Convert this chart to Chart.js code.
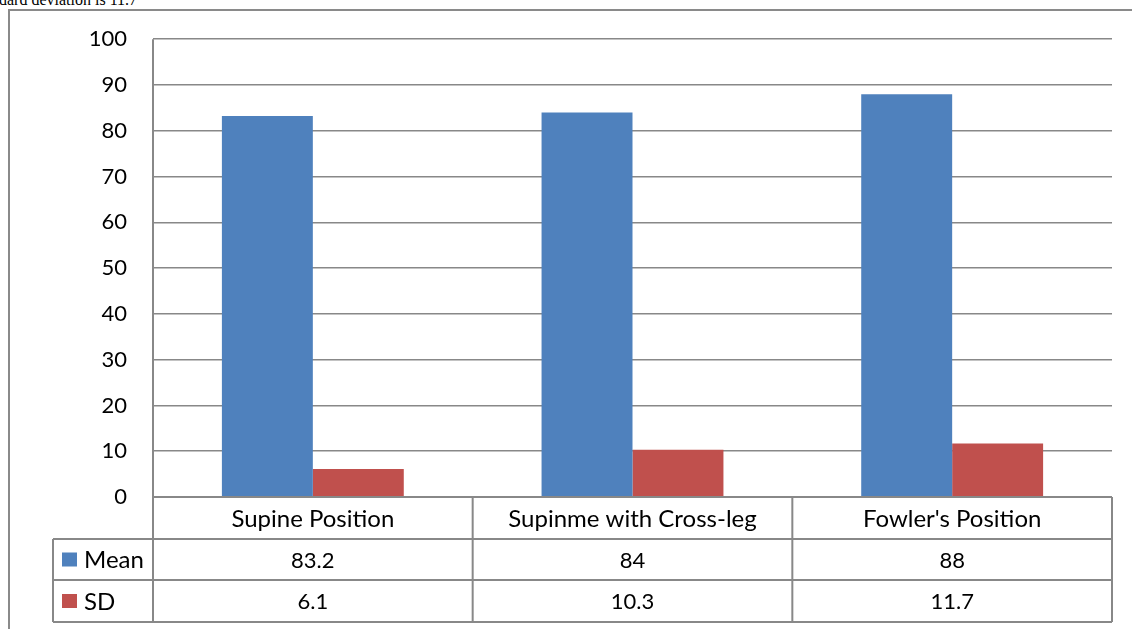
<!DOCTYPE html>
<html>
<head>
<meta charset="utf-8">
<script src="https://cdn.jsdelivr.net/npm/chart.js@4"></script>
<style>
  html, body { margin: 0; padding: 0; background: #fff; overflow: hidden; }
  #frame { position: absolute; left: 8px; top: 9px; width: 1200px; height: 700px; border: 2px solid #8a8a8a; }
  #note { position: absolute; left: -1px; top: -8px; font: 16px "Liberation Serif", serif; line-height: 16px; color: #000; white-space: nowrap; }
  #wrap { position: absolute; left: 0; top: 0; width: 1132px; height: 629px; }
</style>
</head>
<body>
<div id="note">dard deviation is 11.7</div>
<div id="frame"></div>
<div id="wrap"><canvas id="chart"></canvas></div>
<script>
  const categories = ["Supine Position", "Supinme with Cross-leg", "Fowler's Position"];
  const seriesNames = ["Mean", "SD"];
  const meanValues = [83.2, 84, 88];
  const sdValues = [6.1, 10.3, 11.7];
  const tableLabels = [["83.2", "84", "88"], ["6.1", "10.3", "11.7"]];

  const colors = ["#4f81bd", "#c0504d"];
  const lineColor = "#888888";
  const fontFamily = "Lato, 'Open Sans', sans-serif";
  const fontSize = 22;
  const labelSize = 24;

  // data table under the plot, drawn from the x scale
  const dataTable = {
    id: "dataTable",
    afterDraw(chart) {
      const ctx = chart.ctx;
      const area = chart.chartArea;
      const x = chart.scales.x;
      const step = (area.right - area.left) / categories.length;
      const rowTops = [area.bottom, area.bottom + 42, area.bottom + 83, area.bottom + 125];
      const legendLeft = 53;

      ctx.save();
      ctx.strokeStyle = lineColor;
      ctx.lineWidth = 2;
      ctx.beginPath();
      // axis line through the table
      ctx.moveTo(area.left, area.top);
      ctx.lineTo(area.left, rowTops[3]);
      // horizontal lines
      ctx.moveTo(area.left, rowTops[0]);
      ctx.lineTo(area.right, rowTops[0]);
      for (let r = 1; r < 4; r++) {
        ctx.moveTo(legendLeft, rowTops[r]);
        ctx.lineTo(area.right, rowTops[r]);
      }
      // vertical lines
      ctx.moveTo(legendLeft, rowTops[1]);
      ctx.lineTo(legendLeft, rowTops[3]);
      for (let i = 1; i <= categories.length; i++) {
        const px = area.left + i * step;
        ctx.moveTo(px, rowTops[0]);
        ctx.lineTo(px, rowTops[3]);
      }
      ctx.stroke();

      ctx.fillStyle = "#000";
      ctx.textAlign = "center";
      ctx.textBaseline = "middle";
      categories.forEach((c, i) => {
        const cx = x.getPixelForValue(i);
        ctx.font = labelSize + "px " + fontFamily;
        ctx.fillText(c, cx, (rowTops[0] + rowTops[1]) / 2 + 1);
        ctx.font = fontSize + "px " + fontFamily;
        ctx.fillText(tableLabels[0][i], cx, (rowTops[1] + rowTops[2]) / 2 + 1);
        ctx.fillText(tableLabels[1][i], cx, (rowTops[2] + rowTops[3]) / 2 + 1);
      });

      ctx.textAlign = "left";
      ctx.font = labelSize + "px " + fontFamily;
      seriesNames.forEach((name, r) => {
        const cy = (rowTops[r + 1] + rowTops[r + 2]) / 2;
        ctx.fillStyle = colors[r];
        ctx.fillRect(62, cy - 7, 15, 14);
        ctx.fillStyle = "#000";
        ctx.fillText(name, 84, cy + 1);
      });
      ctx.restore();
    },
  };

  new Chart(document.getElementById("chart"), {
    type: "bar",
    data: {
      labels: categories,
      datasets: [
        { label: seriesNames[0], data: meanValues, backgroundColor: colors[0] },
        { label: seriesNames[1], data: sdValues, backgroundColor: colors[1] },
      ],
    },
    options: {
      responsive: true,
      maintainAspectRatio: false,
      animation: false,
      categoryPercentage: 0.569,
      barPercentage: 1,
      layout: { padding: { left: 0, top: 39, right: 20, bottom: 132 } },
      plugins: {
        legend: { display: false },
        tooltip: { enabled: false },
      },
      scales: {
        x: { display: false },
        y: {
          min: 0,
          max: 100,
          afterFit(scale) {
            scale.width = 153;
          },
          ticks: {
            stepSize: 10,
            padding: 26,
            color: "#000",
            font: { family: fontFamily, size: fontSize },
          },
          grid: { color: lineColor, lineWidth: 1.5, drawTicks: false },
          border: { display: false },
        },
      },
    },
    plugins: [dataTable],
  });
</script>
</body>
</html>
